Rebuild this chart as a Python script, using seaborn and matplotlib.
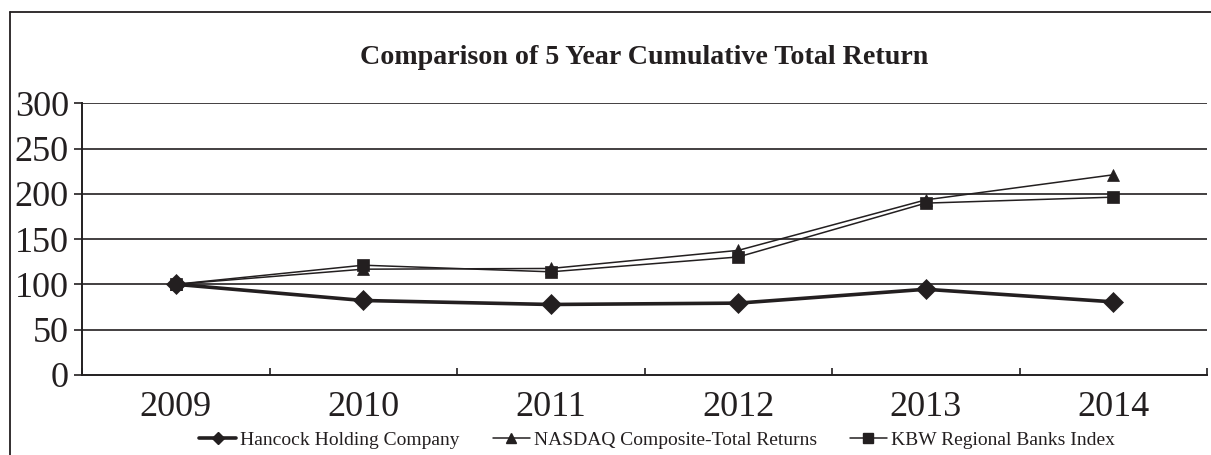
import matplotlib
matplotlib.use("Agg")
import matplotlib.pyplot as plt
from matplotlib.lines import Line2D
import seaborn as sns
import pandas as pd

years = ["2009", "2010", "2011", "2012", "2013", "2014"]
hancock = [100, 82.1, 77.7, 79.2, 94.5, 80.6]
nasdaq = [100, 116.7, 117.5, 137.5, 193.3, 221.0]
kbw = [100, 121.1, 113.8, 130.2, 189.7, 196.3]
series_names = ["Hancock Holding Company", "NASDAQ Composite-Total Returns", "KBW Regional Banks Index"]
y_ticks = [0, 50, 100, 150, 200, 250, 300]
title = "Comparison of 5 Year Cumulative Total Return"

INK = "#231f20"
W, H = 1211, 455
DPI = 100

sns.set_theme(style="white")
plt.rcParams["font.family"] = ["Liberation Serif", "DejaVu Serif"]

fig = plt.figure(figsize=(W / DPI, H / DPI), dpi=DPI)
fig.patch.set_facecolor("white")

ax_l, ax_r = 82 / W, 1207 / W
ax_b, ax_t = 1 - 374.8 / H, 1 - 103.3 / H
ax = fig.add_axes([ax_l, ax_b, ax_r - ax_l, ax_t - ax_b])

df = pd.DataFrame({
    "pos": list(range(len(years))) * 3,
    "value": hancock + nasdaq + kbw,
    "series": [series_names[0]] * len(years) + [series_names[1]] * len(years) + [series_names[2]] * len(years),
})

styles = {
    series_names[0]: dict(marker="D", lw=2.6, ms=10.5),
    series_names[1]: dict(marker="^", lw=1.1, ms=9),
    series_names[2]: dict(marker="s", lw=1.1, ms=9),
}

# gridlines first
for v in y_ticks[1:]:
    ax.axhline(v, color=INK, lw=1.2, zorder=1)

for name in series_names:
    st = styles[name]
    sub = df[df["series"] == name]
    sns.lineplot(data=sub, x="pos", y="value", ax=ax, color=INK,
                 linewidth=st["lw"], marker=st["marker"], markersize=st["ms"],
                 markeredgecolor=INK, markerfacecolor=INK, markeredgewidth=0.5,
                 label=name, legend=False, zorder=3)

ax.set_xlim(-0.5, len(years) - 0.5)
ax.set_ylim(0, 300)
ax.set_xlabel("")
ax.set_ylabel("")

ax.set_yticks(y_ticks)
ax.set_yticklabels([str(v) for v in y_ticks], fontsize=26, color=INK)
ax.tick_params(axis="y", direction="out", length=6, width=1.2, color=INK, pad=3.5, left=True)

ax.set_xticks(range(len(years)))
ax.set_xticklabels(years, fontsize=26, color=INK)
ax.tick_params(axis="x", which="major", length=0, pad=11.5)
ax.set_xticks([i + 0.5 for i in range(-1, len(years))], minor=True)
ax.tick_params(axis="x", which="minor", direction="in", length=5, width=1.2, color=INK, bottom=True)

for side in ["top", "right"]:
    ax.spines[side].set_visible(False)
for side in ["left", "bottom"]:
    ax.spines[side].set_visible(True)
    ax.spines[side].set_color(INK)
    ax.spines[side].set_linewidth(1.4)

fig.text(644 / W, 1 - 58 / H, title, ha="center", va="center",
         fontsize=20.2, fontweight="bold", color=INK)

handles = [
    Line2D([], [], color=INK, lw=2.6, marker="D", ms=6, markeredgecolor=INK),
    Line2D([], [], color=INK, lw=1.1, marker="^", ms=7, markeredgecolor=INK),
    Line2D([], [], color=INK, lw=1.1, marker="s", ms=7, markeredgecolor=INK),
]
leg = fig.legend(handles, series_names, loc="center", ncol=3,
                 bbox_to_anchor=(657 / W, 1 - 440 / H), frameon=False,
                 fontsize=14, handlelength=1.9, handletextpad=0.2,
                 columnspacing=1.7, borderpad=0, borderaxespad=0)
for t in leg.get_texts():
    t.set_color(INK)

# outer frame (left and top edges visible)
fig.add_artist(Line2D([10 / W, 10 / W], [0, 1 - 12 / H], transform=fig.transFigure, color=INK, lw=1.3))
fig.add_artist(Line2D([10 / W, 1], [1 - 12 / H, 1 - 12 / H], transform=fig.transFigure, color=INK, lw=1.3))

fig.savefig("out.png", dpi=DPI, facecolor="white")
